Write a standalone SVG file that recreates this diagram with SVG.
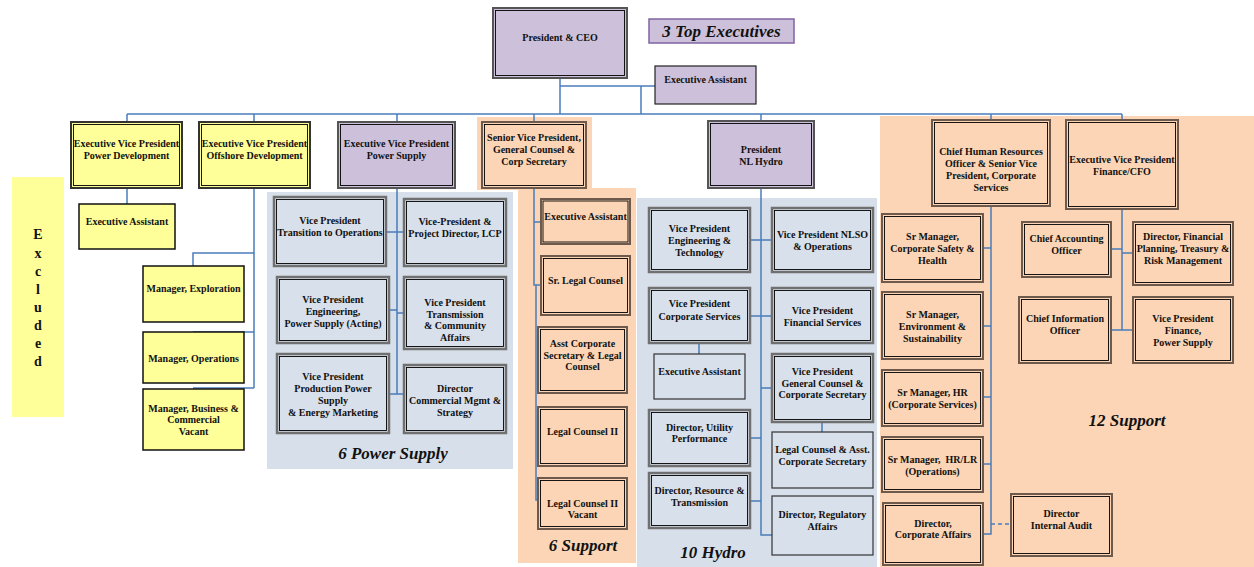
<svg xmlns="http://www.w3.org/2000/svg" width="1254" height="567" viewBox="0 0 1254 567">
<style>
text{font-family:"Liberation Serif","Times New Roman",serif;font-weight:bold;fill:#111}
.t{font-size:10px;text-anchor:middle}
.lab{font-size:17px;font-style:italic;text-anchor:middle}
.ex{font-size:14px;text-anchor:middle}
.c{fill:none;stroke:#4a7ebb;stroke-width:1.5}
.d{fill:none;stroke:#4a7ebb;stroke-width:1.3;stroke-dasharray:4,3}
.yo{fill:#ffff99;stroke:#333;stroke-width:2}
.ys{fill:#ffff99;stroke:#111;stroke-width:1.5}
.lo{fill:#ccc0da;stroke:#555;stroke-width:2}
.po{fill:#fbd5b5;stroke:#6e5a4c;stroke-width:2}
.bo{fill:#d8e0eb;stroke:#707070;stroke-width:2.5}
.bs{fill:#d8e0eb;stroke:#333;stroke-width:1.2}
.ls{fill:#ccc0da;stroke:#222;stroke-width:1.2}
.in{fill:none;stroke:#000;stroke-width:0.9}
</style>

<g id="backgrounds">
<rect x="12" y="177" width="52" height="240" fill="#ffff99"/>
<rect x="267" y="192" width="246" height="277" fill="#d7dfea"/>
<rect x="477" y="117" width="115" height="73" fill="#fbd5b5"/>
<rect x="518" y="188" width="118" height="375" fill="#fbd5b5"/>
<rect x="637" y="198" width="240" height="369" fill="#d7dfea"/>
<rect x="880" y="116" width="374" height="451" fill="#fbd5b5"/>
</g>

<g id="connectors">
<path class="c" d="M560,78V114M560,86H655M641,86V114M127,114H1122M127,114V122M254,114V122M397,114V122M534,114V122M761,114V121M991,114V120M1122,114V120"/>
<path class="c" d="M127,188V204M254,188V388M254,253H193V266M254,332H193M254,388H193"/>
<path class="c" d="M397,188V394M386,232H404M389,310H397M397,313H404M389,394H404"/>
<path class="c" d="M534,188V285H541M534,222H541M536,285V500H538"/>
<path class="c" d="M761,188V535H772M750,240H772M750,316H772M699,343V354M761,388H772M750,438H761M822,422V432M750,501H761"/>
<path class="c" d="M991,206V534H983M983,248H991M983,326H991M983,397H991M983,464H991M1122,209V330M1111,249H1122M1122,253H1133M1111,330H1133"/>
<path class="d" d="M991,524H1011"/>
</g>

<g id="ceo"><rect class="lo" x="493" y="8" width="134" height="70"/><rect class="in" x="495.5" y="10.5" width="129" height="65"/><text class="t" x="560" y="41">President &amp; CEO</text></g>
<g id="top-exec-label"><rect x="649" y="19" width="145" height="24" fill="#ccc0da" stroke="#8064a2" stroke-width="1.5"/><text class="lab" x="721.5" y="37">3 Top Executives</text></g>
<g id="ceo-ea"><rect class="ls" x="655" y="66" width="101" height="38"/><text class="t" x="705.5" y="82.5">Executive Assistant</text></g>

<g id="excluded">
<text class="ex" x="38" y="239">E</text><text class="ex" x="38" y="258">x</text><text class="ex" x="38" y="276">c</text><text class="ex" x="38" y="294">l</text><text class="ex" x="38" y="312">u</text><text class="ex" x="38" y="330">d</text><text class="ex" x="38" y="348">e</text><text class="ex" x="38" y="366">d</text>
</g>

<g id="evp-pd"><rect class="yo" x="71" y="122" width="111" height="66"/><rect class="in" x="73.5" y="124.5" width="106" height="61"/><text class="t" x="126.5" y="146.5">Executive Vice President</text><text class="t" x="126.5" y="158.5">Power Development</text></g>
<g id="evp-od"><rect class="yo" x="199" y="122" width="111" height="66"/><rect class="in" x="201.5" y="124.5" width="106" height="61"/><text class="t" x="254.5" y="146.5">Executive Vice President</text><text class="t" x="254.5" y="158.5">Offshore Development</text></g>
<g id="pd-ea"><rect class="ys" x="79" y="204" width="96" height="45"/><text class="t" x="127" y="224.5">Executive Assistant</text></g>
<g id="mgr-exp"><rect class="ys" x="143" y="266" width="101" height="56"/><text class="t" x="193.5" y="291.5">Manager, Exploration</text></g>
<g id="mgr-ops"><rect class="ys" x="143" y="332" width="101" height="51"/><text class="t" x="193.5" y="361.5">Manager, Operations</text></g>
<g id="mgr-bus"><rect class="ys" x="143" y="389" width="101" height="61"/><text class="t" x="193.5" y="411.5">Manager, Business &amp;</text><text class="t" x="193.5" y="422.5">Commercial</text><text class="t" x="193.5" y="434.5">Vacant</text></g>

<g id="evp-ps"><rect class="lo" x="338" y="122" width="117" height="66"/><rect class="in" x="340.5" y="124.5" width="112" height="61"/><text class="t" x="396.5" y="146.5">Executive Vice President</text><text class="t" x="396.5" y="158.5">Power Supply</text></g>
<g id="vp-transition"><rect class="bo" x="274" y="197" width="112" height="69"/><rect class="in" x="276.5" y="199.5" width="107" height="64"/><text class="t" x="330" y="223.5">Vice President</text><text class="t" x="330" y="235.5">Transition to Operations</text></g>
<g id="vp-lcp"><rect class="bo" x="404" y="199" width="102" height="67"/><rect class="in" x="406.5" y="201.5" width="97" height="62"/><text class="t" x="455" y="224.5">Vice-President &amp;</text><text class="t" x="455" y="236.5">Project Director, LCP</text></g>
<g id="vp-eng"><rect class="bo" x="277" y="277" width="112" height="66"/><rect class="in" x="279.5" y="279.5" width="107" height="61"/><text class="t" x="333" y="302.5">Vice President</text><text class="t" x="333" y="314.5">Engineering,</text><text class="t" x="333" y="326.5">Power Supply (Acting)</text></g>
<g id="vp-trans"><rect class="bo" x="404" y="277" width="102" height="72"/><rect class="in" x="406.5" y="279.5" width="97" height="67"/><text class="t" x="455" y="305.5">Vice President</text><text class="t" x="455" y="317.5">Transmission</text><text class="t" x="455" y="328.5">&amp; Community</text><text class="t" x="455" y="340.5">Affairs</text></g>
<g id="vp-prod"><rect class="bo" x="277" y="354" width="112" height="79"/><rect class="in" x="279.5" y="356.5" width="107" height="74"/><text class="t" x="333" y="379.5">Vice President</text><text class="t" x="333" y="391.5">Production Power</text><text class="t" x="333" y="403.5">Supply</text><text class="t" x="333" y="415.5">&amp; Energy Marketing</text></g>
<g id="dir-comm"><rect class="bo" x="404" y="365" width="102" height="68"/><rect class="in" x="406.5" y="367.5" width="97" height="63"/><text class="t" x="455" y="391.5">Director</text><text class="t" x="455" y="403.5">Commercial Mgmt &amp;</text><text class="t" x="455" y="415.5">Strategy</text></g>
<text class="lab" x="393" y="459">6 Power Supply</text>

<g id="svp-gc"><rect class="po" x="482" y="122" width="104" height="66"/><rect class="in" x="484.5" y="124.5" width="99" height="61"/><text class="t" x="534" y="140.5">Senior Vice President,</text><text class="t" x="534" y="152.5">General Counsel &amp;</text><text class="t" x="534" y="164.5">Corp Secretary</text></g>
<g id="svp-ea"><rect class="po" x="541" y="199" width="89" height="45"/><rect class="in" x="543" y="201" width="85" height="41"/><text class="t" x="585.5" y="219.5">Executive Assistant</text></g>
<g id="sr-legal"><rect class="po" x="541" y="256" width="89" height="59"/><rect class="in" x="543.5" y="258.5" width="84" height="54"/><text class="t" x="585.5" y="283.5">Sr. Legal Counsel</text></g>
<g id="asst-corp-sec"><rect class="po" x="538" y="327" width="89" height="66"/><rect class="in" x="540.5" y="329.5" width="84" height="61"/><text class="t" x="582.5" y="346.5">Asst Corporate</text><text class="t" x="582.5" y="358.5">Secretary &amp; Legal</text><text class="t" x="582.5" y="369.5">Counsel</text></g>
<g id="legal-2"><rect class="po" x="538" y="407" width="89" height="59"/><rect class="in" x="540.5" y="409.5" width="84" height="54"/><text class="t" x="582.5" y="434.5">Legal Counsel II</text></g>
<g id="legal-2-vacant"><rect class="po" x="538" y="478" width="89" height="51"/><rect class="in" x="540.5" y="480.5" width="84" height="46"/><text class="t" x="582.5" y="506.5">Legal Counsel II</text><text class="t" x="582.5" y="517.5">Vacant</text></g>
<text class="lab" x="583" y="551">6 Support</text>

<g id="pres-hydro"><rect class="lo" x="708" y="121" width="106" height="67"/><rect class="in" x="710.5" y="123.5" width="101" height="62"/><text class="t" x="761" y="152.5">President</text><text class="t" x="761" y="164.5">NL Hydro</text></g>
<g id="vp-eng-tech"><rect class="bo" x="649" y="208" width="101" height="64"/><rect class="in" x="651.5" y="210.5" width="96" height="59"/><text class="t" x="699.5" y="231.5">Vice President</text><text class="t" x="699.5" y="243.5">Engineering &amp;</text><text class="t" x="699.5" y="255.5">Technology</text></g>
<g id="vp-nlso"><rect class="bo" x="772" y="208" width="101" height="64"/><rect class="in" x="774.5" y="210.5" width="96" height="59"/><text class="t" x="822.5" y="237.5">Vice President NLSO</text><text class="t" x="822.5" y="249.5">&amp; Operations</text></g>
<g id="vp-corp-svc"><rect class="bo" x="649" y="288" width="101" height="55"/><rect class="in" x="651.5" y="290.5" width="96" height="50"/><text class="t" x="699.5" y="306.5">Vice President</text><text class="t" x="699.5" y="319.5">Corporate Services</text></g>
<g id="vp-fin-svc"><rect class="bo" x="772" y="288" width="101" height="55"/><rect class="in" x="774.5" y="290.5" width="96" height="50"/><text class="t" x="822.5" y="313.5">Vice President</text><text class="t" x="822.5" y="325.5">Financial Services</text></g>
<g id="hydro-ea"><rect class="bs" x="654" y="354" width="91" height="45"/><text class="t" x="699.5" y="374.5">Executive Assistant</text></g>
<g id="vp-gc"><rect class="bo" x="772" y="354" width="101" height="68"/><rect class="in" x="774.5" y="356.5" width="96" height="63"/><text class="t" x="822.5" y="374.5">Vice President</text><text class="t" x="822.5" y="386.5">General Counsel &amp;</text><text class="t" x="822.5" y="397.5">Corporate Secretary</text></g>
<g id="dir-utility"><rect class="bo" x="649" y="410" width="101" height="56"/><rect class="in" x="651.5" y="412.5" width="96" height="51"/><text class="t" x="699.5" y="430.5">Director, Utility</text><text class="t" x="699.5" y="441.5">Performance</text></g>
<g id="legal-asst"><rect class="bs" x="772" y="432" width="101" height="56"/><text class="t" x="822.5" y="452.5">Legal Counsel &amp; Asst.</text><text class="t" x="822.5" y="464.5">Corporate Secretary</text></g>
<g id="dir-resource"><rect class="bo" x="649" y="473" width="101" height="55"/><rect class="in" x="651.5" y="475.5" width="96" height="50"/><text class="t" x="699.5" y="493.5">Director, Resource &amp;</text><text class="t" x="699.5" y="505.5">Transmission</text></g>
<g id="dir-regulatory"><rect class="bs" x="772" y="496" width="101" height="59"/><text class="t" x="822.5" y="517.5">Director, Regulatory</text><text class="t" x="822.5" y="529.5">Affairs</text></g>
<text class="lab" x="713" y="558">10 Hydro</text>

<g id="chro"><rect class="po" x="932" y="120" width="118" height="86"/><rect class="in" x="934.5" y="122.5" width="113" height="81"/><text class="t" x="991" y="154.5">Chief Human Resources</text><text class="t" x="991" y="166.5">Officer &amp; Senior Vice</text><text class="t" x="991" y="178.5">President, Corporate</text><text class="t" x="991" y="190.5">Services</text></g>
<g id="cfo"><rect class="po" x="1066" y="120" width="112" height="89"/><rect class="in" x="1068.5" y="122.5" width="107" height="84"/><text class="t" x="1122" y="162.5">Executive Vice President</text><text class="t" x="1122" y="174.5">Finance/CFO</text></g>
<g id="sm-safety"><rect class="po" x="882" y="214" width="101" height="68"/><rect class="in" x="884.5" y="216.5" width="96" height="63"/><text class="t" x="932.5" y="239.5">Sr Manager,</text><text class="t" x="932.5" y="251.5">Corporate Safety &amp;</text><text class="t" x="932.5" y="263.5">Health</text></g>
<g id="sm-env"><rect class="po" x="882" y="292" width="101" height="67"/><rect class="in" x="884.5" y="294.5" width="96" height="62"/><text class="t" x="932.5" y="317.5">Sr Manager,</text><text class="t" x="932.5" y="329.5">Environment &amp;</text><text class="t" x="932.5" y="341.5">Sustainability</text></g>
<g id="sm-hr"><rect class="po" x="882" y="370" width="101" height="56"/><rect class="in" x="884.5" y="372.5" width="96" height="51"/><text class="t" x="932.5" y="395.5">Sr Manager, HR</text><text class="t" x="932.5" y="407.5">(Corporate Services)</text></g>
<g id="sm-hrlr"><rect class="po" x="882" y="437" width="101" height="55"/><rect class="in" x="884.5" y="439.5" width="96" height="50"/><text class="t" x="932.5" y="462.5">Sr Manager,&#160; HR/LR</text><text class="t" x="932.5" y="474.5">(Operations)</text></g>
<g id="dir-corp-affairs"><rect class="po" x="883" y="503" width="100" height="62"/><rect class="in" x="885.5" y="505.5" width="95" height="57"/><text class="t" x="933" y="526.5">Director,</text><text class="t" x="933" y="537.5">Corporate Affairs</text></g>
<g id="dir-audit"><rect class="po" x="1011" y="494" width="101" height="62"/><rect class="in" x="1013.5" y="496.5" width="96" height="57"/><text class="t" x="1061.5" y="516.5">Director</text><text class="t" x="1061.5" y="528.5">Internal Audit</text></g>
<g id="cao"><rect class="po" x="1022" y="222" width="89" height="55"/><rect class="in" x="1024.5" y="224.5" width="84" height="50"/><text class="t" x="1066.5" y="241.5">Chief Accounting</text><text class="t" x="1066.5" y="253.5">Officer</text></g>
<g id="dir-fin-plan"><rect class="po" x="1133" y="222" width="100" height="63"/><rect class="in" x="1135.5" y="224.5" width="95" height="58"/><text class="t" x="1183" y="239.5">Director, Financial</text><text class="t" x="1183" y="251.5">Planning, Treasury &amp;</text><text class="t" x="1183" y="263.5">Risk Management</text></g>
<g id="cio"><rect class="po" x="1019" y="297" width="92" height="66"/><rect class="in" x="1021.5" y="299.5" width="87" height="61"/><text class="t" x="1065" y="321.5">Chief Information</text><text class="t" x="1065" y="333.5">Officer</text></g>
<g id="vp-fin-ps"><rect class="po" x="1133" y="297" width="100" height="66"/><rect class="in" x="1135.5" y="299.5" width="95" height="61"/><text class="t" x="1183" y="321.5">Vice President</text><text class="t" x="1183" y="333.5">Finance,</text><text class="t" x="1183" y="345.5">Power Supply</text></g>
<text class="lab" x="1127" y="426">12 Support</text>
</svg>
